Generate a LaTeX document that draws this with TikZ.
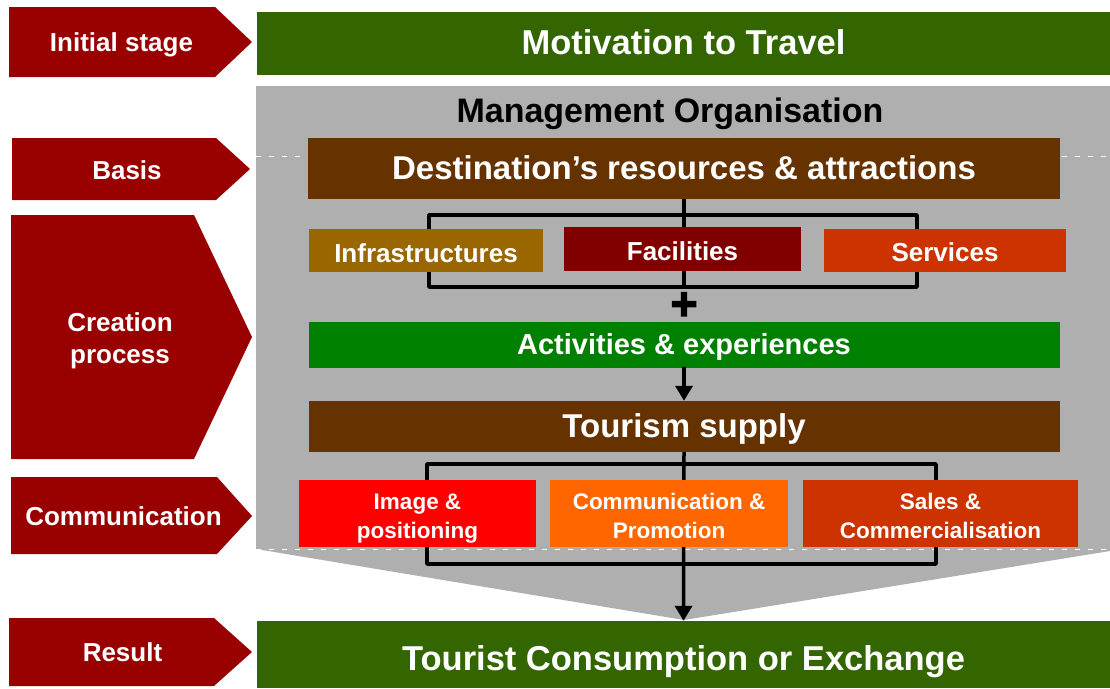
\documentclass[tikz,border=0pt]{standalone}
\usepackage{fontspec}
\setmainfont{Liberation Sans}
\newfontfamily\heavyfont[FakeBold=3]{Liberation Sans}
\usetikzlibrary{arrows.meta}
\definecolor{leftred}{HTML}{990000}
\definecolor{dkgreen}{HTML}{336600}
\definecolor{bggray}{HTML}{AFAFAF}
\definecolor{brownbox}{HTML}{663300}
\definecolor{ochre}{HTML}{996600}
\definecolor{maroonbox}{HTML}{800000}
\definecolor{rust}{HTML}{CC3300}
\definecolor{greenbox}{HTML}{008000}
\definecolor{redbox}{HTML}{FF0000}
\definecolor{orangebox}{HTML}{FF6600}
\pgfdeclarelayer{bg}
\pgfdeclarelayer{lines}
\pgfsetlayers{bg,lines,main}
\newcommand{\twoline}[2]{\begin{tabular}[b]{@{}c@{}}#1\\#2\end{tabular}}
\tikzset{
  box/.style={inner sep=0pt, text=white, text depth=0pt, text height=#1},
  lefttext/.style={inner sep=0pt, text=white, align=center, font=\fontsize{26}{32}\selectfont\bfseries},
  conn/.style={line width=3.5pt, line cap=round, line join=round, black},
  arr/.style={conn, -{Triangle[length=15pt,width=17pt]}},
  guide/.style={white, line width=0.8pt, dash pattern=on 5pt off 8pt},
}
\begin{document}
\begin{tikzpicture}[x=1pt,y=-1pt]
\useasboundingbox (0,0) rectangle (1110,688);

% left stage arrows
\fill[leftred] (9,7) -- (215,7) -- (252,42) -- (215,77) -- (9,77) -- cycle;
\node[lefttext] (s1) at (121.5,45) {Initial stage};
\fill[leftred] (12,138) -- (216,138) -- (250,169) -- (216,200) -- (12,200) -- cycle;
\node[lefttext] (s2) at (127,170) {Basis};
\fill[leftred] (11,215) -- (194,215) -- (252,337) -- (194,459) -- (11,459) -- cycle;
\node[lefttext] (s3) at (120,341) {Creation\\process};
\fill[leftred] (11,477) -- (217,477) -- (252,516) -- (217,554) -- (11,554) -- cycle;
\node[lefttext] (s4) at (123.5,516) {Communication};
\fill[leftred] (9,618) -- (214,618) -- (252,652) -- (214,686) -- (9,686) -- cycle;
\node[lefttext] (s5) at (122.5,652) {Result};

% main boxes
\node[box=21pt, fill=dkgreen, minimum width=853pt, minimum height=63pt, font=\fontsize{34.5}{40}\selectfont\bfseries] (mot) at (683.5,43.5) {Motivation to Travel};
\node[inner sep=0pt, text depth=0pt, text height=24pt, font=\fontsize{34}{40}\selectfont\bfseries] (mgmt) at (670,110) {Management Organisation};
\node[box=21pt, fill=brownbox, minimum width=752pt, minimum height=61pt, font=\fontsize{33}{40}\selectfont\bfseries] (dest) at (684,168.5) {Destination’s resources \& attractions};
\node[box=23pt, fill=ochre, minimum width=234pt, minimum height=43pt, font=\fontsize{26}{31}\selectfont\bfseries] (infra) at (426,250.5) {Infrastructures};
\node[box=22pt, fill=maroonbox, minimum width=237pt, minimum height=44pt, font=\fontsize{26}{31}\selectfont\bfseries] (fac) at (682.5,249) {Facilities};
\node[box=21pt, fill=rust, minimum width=242pt, minimum height=43pt, font=\fontsize{26}{31}\selectfont\bfseries] (serv) at (945,250.5) {Services};
\node[inner sep=0pt, font=\fontsize{46}{50}\selectfont\heavyfont\bfseries] (plus) at (684,306) {+};
\node[box=18pt, fill=greenbox, minimum width=751pt, minimum height=46pt, font=\fontsize{29}{34}\selectfont\bfseries] (act) at (684,345) {Activities \& experiences};
\node[box=21pt, fill=brownbox, minimum width=751pt, minimum height=51pt, font=\fontsize{33}{40}\selectfont\bfseries] (ts) at (684,426.5) {Tourism supply};
\node[box=49pt, fill=redbox, minimum width=237pt, minimum height=67pt, font=\fontsize{22.5}{29}\selectfont\bfseries] (img) at (417.5,513.5) {\twoline{Image \&}{positioning}};
\node[box=49pt, fill=orangebox, minimum width=238pt, minimum height=67pt, font=\fontsize{22.5}{29}\selectfont\bfseries] (com) at (669,513.5) {\twoline{Communication \&}{Promotion}};
\node[box=49pt, fill=rust, minimum width=275pt, minimum height=67pt, font=\fontsize{22.5}{29}\selectfont\bfseries] (sal) at (940.5,513.5) {\twoline{Sales \&}{Commercialisation}};
\node[box=31pt, fill=dkgreen, minimum width=853pt, minimum height=67pt, font=\fontsize{34.5}{40}\selectfont\bfseries] (tce) at (683.5,654.5) {Tourist Consumption or Exchange};

% grey management area
\begin{pgfonlayer}{bg}
\fill[bggray] (256,86) -- (1110,86) -- (1110,551) -- (684,620) -- (256,549) -- cycle;
\draw[guide] (256,156) -- (1110,156);
\draw[guide] (256,549) -- (1110,549);
\end{pgfonlayer}

% connectors
\coordinate (b1a) at (429,215);
\coordinate (b1b) at (917,287);
\coordinate (b1c) at (684,287);
\coordinate (b2a) at (427,464);
\coordinate (b2b) at (936,564);
\begin{pgfonlayer}{lines}
\draw[conn] (b1a) rectangle (b1b);
\draw[conn] (dest.south) -- (b1c);
\draw[conn] (b2a) rectangle (b2b);
\draw[arr] (ts.south) -- (tce.north);
\end{pgfonlayer}
\draw[arr] (act.south) -- (ts.north);
\end{tikzpicture}
\end{document}
